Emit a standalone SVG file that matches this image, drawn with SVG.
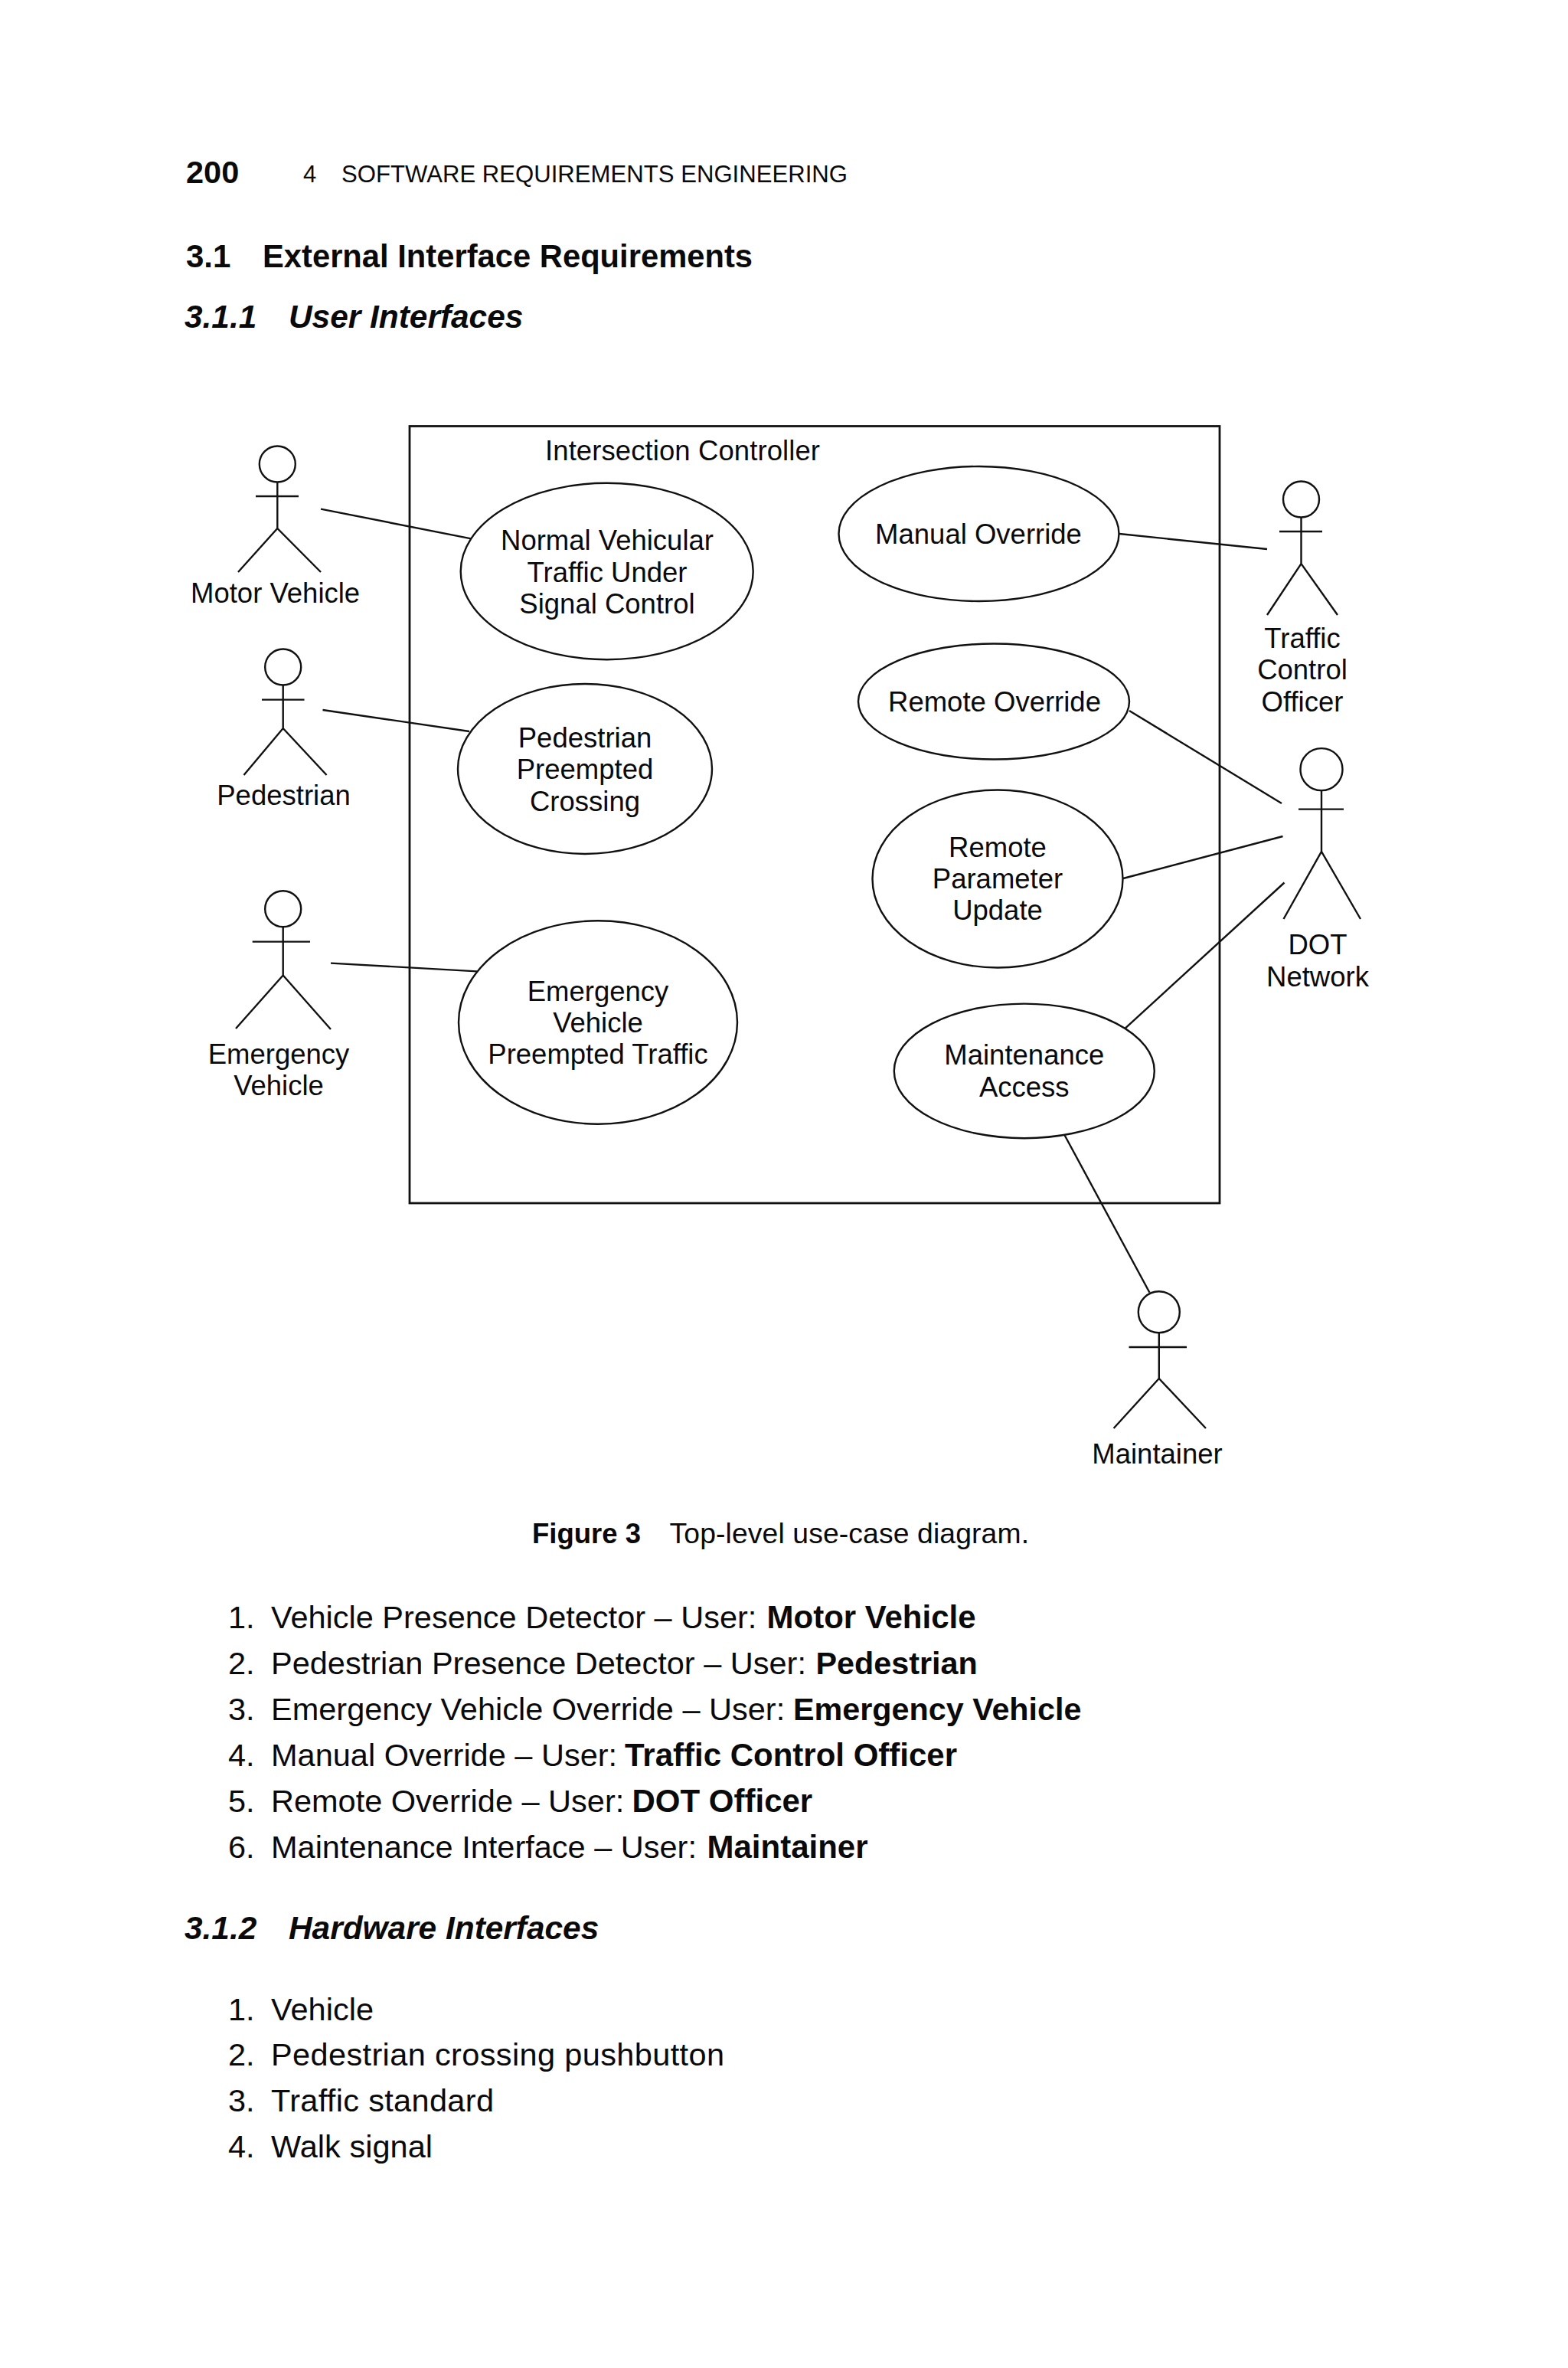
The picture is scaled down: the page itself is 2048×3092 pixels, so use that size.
<svg xmlns="http://www.w3.org/2000/svg" width="2048" height="3092" viewBox="0 0 2048 3092">
<style>
text{font-family:"Liberation Sans",Arial,Helvetica,sans-serif;fill:#0a0a0a}
.l{font-size:36.5px;text-anchor:middle}
.s{fill:#fff;stroke:#111;stroke-width:2.4}
.c,.a path{fill:none;stroke:#111;stroke-width:2.4;stroke-linejoin:miter}
.a circle{fill:none;stroke:#111;stroke-width:2.4}
.b{font-weight:700}
.i{font-weight:700;font-style:italic;font-size:42.4px}
.h{font-size:41.5px}
.h .b{font-size:42px}
.h .e{font-size:41.3px}
.cap{font-size:37.3px}
</style>
<rect width="2048" height="3092" fill="#fff"/>
<g id="page-header">
<text x="243" y="239" class="b" font-size="41.5">200</text>
<text x="396" y="238" font-size="31">4</text>
<text x="446" y="238" font-size="31.1" textLength="661">SOFTWARE REQUIREMENTS ENGINEERING</text>
<text x="243" y="349" class="b" font-size="42">3.1</text>
<text x="343" y="349" class="b" font-size="41.7" textLength="640">External Interface Requirements</text>
<text x="241" y="428" class="i">3.1.1</text>
<text x="377" y="428" class="i">User Interfaces</text>
</g>
<g id="system-boundary">
<rect x="535" y="556.5" width="1058" height="1014.5" fill="none" stroke="#111" stroke-width="2.8"/>
<text x="712" y="601" font-size="36.5" textLength="359">Intersection Controller</text>
</g>
<g id="connectors">
<path class="c" d="M419 664.6L615.4 703.4"/>
<path class="c" d="M421.5 927L613 955"/>
<path class="c" d="M432 1257.6L623 1268.4"/>
<path class="c" d="M1462 697L1655 717"/>
<path class="c" d="M1475 928L1674 1049"/>
<path class="c" d="M1467 1147L1675.5 1092"/>
<path class="c" d="M1470 1342.3L1677.5 1152.5"/>
<path class="c" d="M1390.8 1482.7L1501.5 1687.8"/>
</g>
<g id="uc-normal"><ellipse class="s" cx="792.7" cy="746" rx="191" ry="115.3"/><text class="l" x="793" y="718">Normal Vehicular</text><text class="l" x="793" y="759.5">Traffic Under</text><text class="l" x="793" y="801">Signal Control</text></g>
<g id="uc-pedestrian"><ellipse class="s" cx="764" cy="1004" rx="166" ry="111"/><text class="l" x="764" y="976">Pedestrian</text><text class="l" x="764" y="1017">Preempted</text><text class="l" x="764" y="1058.5">Crossing</text></g>
<g id="uc-emergency"><ellipse class="s" cx="781" cy="1335" rx="182" ry="132.7"/><text class="l" x="781" y="1307">Emergency</text><text class="l" x="781" y="1348">Vehicle</text><text class="l" x="781" y="1389.3">Preempted Traffic</text></g>
<g id="uc-manual"><ellipse class="s" cx="1278.5" cy="697" rx="183" ry="88"/><text class="l" x="1278" y="710">Manual Override</text></g>
<g id="uc-remote"><ellipse class="s" cx="1298" cy="916" rx="177" ry="75.5"/><text class="l" x="1299" y="929">Remote Override</text></g>
<g id="uc-parameter"><ellipse class="s" cx="1303" cy="1147.5" rx="163.5" ry="116"/><text class="l" x="1303" y="1119">Remote</text><text class="l" x="1303" y="1160">Parameter</text><text class="l" x="1303" y="1201">Update</text></g>
<g id="uc-maintenance"><ellipse class="s" cx="1337.8" cy="1398.4" rx="170" ry="87.8"/><text class="l" x="1337.8" y="1390.3">Maintenance</text><text class="l" x="1337.8" y="1431.6">Access</text></g>
<g id="actor-motor" class="a"><circle cx="362.3" cy="606" r="23.5"/><path d="M362.3 629.5V690M334 648H390M311 747L362.3 690L419 747"/><text class="l" x="359.6" y="786.5">Motor Vehicle</text></g>
<g id="actor-pedestrian" class="a"><circle cx="369.7" cy="871" r="23.5"/><path d="M369.7 894.5V951M342 913.6H397.5M318.5 1012L369.7 951L426.6 1012"/><text class="l" x="370.5" y="1051">Pedestrian</text></g>
<g id="actor-emergency" class="a"><circle cx="369.7" cy="1186.7" r="23.5"/><path d="M369.7 1210V1273.5M329.7 1229.6H405M308 1343L369.7 1273.5L432 1344"/><text class="l" x="364" y="1388.8">Emergency</text><text class="l" x="364" y="1430">Vehicle</text></g>
<g id="actor-traffic" class="a"><circle cx="1699.5" cy="652" r="23.5"/><path d="M1699.5 675.5V736M1671 694H1727M1655 803L1699.5 736L1747 803"/><text class="l" x="1701" y="846">Traffic</text><text class="l" x="1701" y="887">Control</text><text class="l" x="1701" y="929">Officer</text></g>
<g id="actor-dot" class="a"><circle cx="1726" cy="1004.6" r="27.5"/><path d="M1726 1032V1112M1696 1056.6H1755M1676.5 1200L1726 1112L1777 1200"/><text class="l" x="1721" y="1246">DOT</text><text class="l" x="1721" y="1288">Network</text></g>
<g id="actor-maintainer" class="a"><circle cx="1513.8" cy="1713.3" r="27"/><path d="M1513.8 1740.3V1800M1474.5 1759H1550M1454.6 1865L1513.8 1800L1575 1865"/><text class="l" x="1511.5" y="1911">Maintainer</text></g>
<g id="caption">
<text x="695" y="2015" class="b" font-size="36.5">Figure 3</text>
<text x="874.5" y="2015" class="cap" textLength="469.5">Top-level use-case diagram.</text>
</g>
<g id="user-list" class="h">
<text x="298" y="2125.5">1.</text><text y="2125.5"><tspan x="354">Vehicle Presence Detector – User: </tspan><tspan x="1001.5" class="b">Motor Vehicle</tspan></text>
<text x="298" y="2186">2.</text><text y="2186"><tspan x="354">Pedestrian Presence Detector – User: </tspan><tspan x="1065.5" class="b e">Pedestrian</tspan></text>
<text x="298" y="2246">3.</text><text y="2246"><tspan x="354">Emergency Vehicle Override – User: </tspan><tspan x="1036" class="b e">Emergency Vehicle</tspan></text>
<text x="298" y="2306">4.</text><text y="2306"><tspan x="354">Manual Override – User: </tspan><tspan x="816" class="b">Traffic Control Officer</tspan></text>
<text x="298" y="2366">5.</text><text y="2366"><tspan x="354">Remote Override – User: </tspan><tspan x="825.5" class="b">DOT Officer</tspan></text>
<text x="298" y="2426">6.</text><text y="2426"><tspan x="354">Maintenance Interface – User: </tspan><tspan x="923.5" class="b">Maintainer</tspan></text>
</g>
<g id="hardware-section">
<text x="241" y="2531.5" class="i">3.1.2</text>
<text x="377" y="2531.5" class="i">Hardware Interfaces</text>
</g>
<g id="hardware-list" class="h">
<text x="298" y="2637.5">1.</text><text x="354" y="2637.5" textLength="134">Vehicle</text>
<text x="298" y="2697">2.</text><text x="354" y="2697" textLength="592">Pedestrian crossing pushbutton</text>
<text x="298" y="2757">3.</text><text x="354" y="2757" textLength="291">Traffic standard</text>
<text x="298" y="2817">4.</text><text x="354" y="2817" textLength="211">Walk signal</text>
</g>
</svg>
